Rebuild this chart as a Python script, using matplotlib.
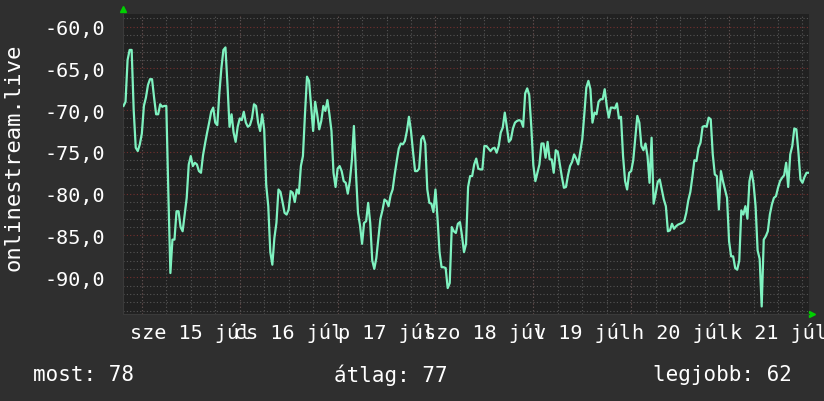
"""
Weekly signal graph for onlinestream.live (RRD style, dark theme).
"""

import matplotlib

matplotlib.use("Agg")
import matplotlib.pyplot as plt
import matplotlib.dates as mdates
from matplotlib.ticker import MultipleLocator, FuncFormatter
import pandas as pd

# half-hour samples, starting 14 Jul 19:30 (one row = 6 hours)
start = "2020-07-14 19:30"
rssi = [
    -69.5, -69, -64, -62.8, -62.8, -70, -74.5, -74.9, -74.1, -72.8, -69.5, -68.5,
    -67, -66.3, -66.3, -68.5, -70.5, -70.5, -69.3, -69.6, -69.5, -69.5, -80, -89.5,
    -85.5, -85.5, -82.1, -82.1, -84, -84.5, -82.5, -80.5, -76.5, -75.5, -76.7, -76.3,
    -76.5, -77.3, -77.5, -75.4, -74, -72.7, -71.5, -70.2, -69.7, -71.5, -71.8, -68,
    -65, -62.8, -62.5, -67, -72, -70.5, -72.7, -73.8, -72, -71, -71.2, -70.2,
    -71.5, -72, -71.8, -71, -69.3, -69.5, -71.5, -72.5, -70.5, -72.3, -79, -81.5,
    -87, -88.5, -85.3, -83.5, -79.5, -79.8, -81, -82.3, -82.5, -81.9, -79.7, -79.9,
    -81, -79.5, -80, -76.7, -75.5, -70.5, -66, -66.5, -69.5, -72.5, -69, -70.5,
    -72.3, -71.3, -69.5, -70.1, -68.8, -70.5, -72.5, -77.5, -79.2, -77, -76.7, -77.3,
    -78.5, -78.7, -80, -78.5, -76, -71.9, -77.5, -82.3, -83.8, -86, -83.5, -83.3,
    -81.1, -83.5, -88, -89, -87.7, -85.3, -83, -82, -80.7, -80.9, -81.5, -80.2,
    -79.5, -77.7, -76.1, -74.6, -74, -74.1, -73.7, -72.5, -70.8, -72.5, -75, -77.3,
    -77.3, -77, -73.5, -73.1, -74, -79.5, -81.1, -81.2, -82.2, -79.5, -82.9, -87,
    -88.8, -88.8, -88.9, -91.3, -90.7, -84, -84.5, -84.7, -83.6, -83.4, -85, -87,
    -86, -79.2, -77.9, -77.9, -76.5, -75.8, -77, -77.1, -77.1, -74.3, -74.3, -74.6,
    -74.9, -74.6, -74.5, -75.1, -74.3, -72.7, -72.1, -70.3, -72, -73.8, -73.5, -72.2,
    -71.5, -71.3, -71.2, -71.3, -72, -68, -67.4, -68.2, -72, -76.6, -78.5, -77.5,
    -76.5, -74, -74, -75.7, -73.8, -75.9, -75.9, -77.5, -74.8, -75, -76.5, -78,
    -79.3, -79.2, -77.8, -76.7, -76.2, -75.3, -75.8, -76.5, -75, -73.5, -70.5, -67.3,
    -66.5, -67.5, -71.5, -70.3, -70.5, -69, -68.7, -68.7, -67.5, -69.5, -70.9, -69.7,
    -69.7, -69.8, -69.2, -71, -70.8, -75.5, -78.5, -79.5, -77.5, -77.3, -76, -73.3,
    -70.7, -71.5, -74.3, -74.8, -74, -75.5, -78.7, -73.3, -81.2, -80, -78.6, -78.3,
    -79.5, -80.7, -81.5, -84.5, -84.4, -83.6, -84.2, -83.9, -83.7, -83.6, -83.5, -83.3,
    -82.3, -80.8, -79.8, -78, -76, -76.1, -74.5, -73.9, -72, -71.9, -72, -70.9,
    -71.1, -75.3, -77.7, -77.9, -81.9, -77.3, -78.5, -79.5, -80.5, -85.7, -87.5, -87.5,
    -88.9, -89.1, -88, -82, -82.5, -81.5, -83, -78.5, -77.3, -78.8, -81.5, -86.8,
    -87.8, -93.5, -85.5, -85.1, -84.5, -82.5, -81.3, -80.5, -80.3, -79.3, -78.5, -78.1,
    -77.8, -76.3, -79.2, -75.3, -74.3, -72.2, -72.3, -75, -78.3, -78.7, -78, -77.5,
    -77.5,
]
day_labels = ["sze 15 júl", "cs 16 júl", "p 17 júl", "szo 18 júl",
              "v 19 júl", "h 20 júl", "k 21 júl"]
label_days = pd.date_range("2020-07-15 12:00", periods=len(day_labels), freq="D")
midnights = pd.date_range("2020-07-15", periods=7, freq="D")

legend_now = "most: 78"
legend_avg = "átlag: 77"
legend_best = "legjobb: 62"

BG = "#2f2f2f"
PLOT_BG = "#212121"
LINE = "#7ff2c0"
MINOR = "#555555"
MAJOR = "#74302f"
MONO = "DejaVu Sans Mono"

times = pd.date_range(start, periods=len(rssi), freq="30min")

fig = plt.figure(figsize=(8.24, 4.02), dpi=100, facecolor=BG)
ax = fig.add_axes([123.5 / 824, 1 - 315 / 402, 685.5 / 824, 300 / 402])
ax.set_facecolor(PLOT_BG)

ax.set_xlim(pd.Timestamp("2020-07-14 19:30"), pd.Timestamp("2020-07-21 19:36"))
ax.set_ylim(-94.4, -58.5)

# grid: grey every 6h / 1 unit, red at midnight / every 5 units
ax.xaxis.set_major_locator(mdates.HourLocator(byhour=[12]))
ax.xaxis.set_minor_locator(mdates.HourLocator(byhour=[0, 6, 12, 18]))
ax.yaxis.set_major_locator(MultipleLocator(5))
ax.yaxis.set_minor_locator(MultipleLocator(1))
ax.grid(which="minor", color=MINOR, linestyle=(0, (1, 2)), linewidth=0.8)
ax.grid(which="major", axis="x", color=MINOR, linestyle=(0, (1, 2)), linewidth=0.8)
ax.grid(which="major", axis="y", color=MAJOR, linestyle=(0, (1, 2)), linewidth=0.8)
for m in midnights:
    ax.axvline(m, color=MAJOR, linestyle=(0, (1, 2)), linewidth=0.8, zorder=1)

ax.plot(times, rssi, color=LINE, linewidth=1.6, zorder=3)

ax.set_xticks(label_days)
ax.set_xticklabels(day_labels)
ax.yaxis.set_major_formatter(FuncFormatter(lambda v, p: f"{v:.1f}".replace(".", ",")))

ax.tick_params(which="both", length=0, colors="white", labelsize=14.5)
ax.tick_params(axis="y", pad=13)
ax.tick_params(axis="x", pad=6)
for lab in ax.get_xticklabels() + ax.get_yticklabels():
    lab.set_family(MONO)

for side in ["top", "right"]:
    ax.spines[side].set_visible(False)
for side in ["left", "bottom"]:
    ax.spines[side].set_color("#3a3a3a")

# little green arrows at the axis ends
ax.plot([0], [1.017], marker="^", color="#00d000", markersize=4,
        transform=ax.transAxes, clip_on=False)
ax.plot([1.004], [0.0], marker=">", color="#00d000", markersize=4,
        transform=ax.transAxes, clip_on=False)

fig.text(14 / 824, 1 - 157 / 402, "onlinestream.live", rotation=90,
         ha="center", va="center", color="white", family=MONO, fontsize=16)

y_leg = 1 - 375 / 402
fig.text(33 / 824, y_leg, legend_now, ha="left", va="center",
         color="white", family=MONO, fontsize=15)
fig.text(334 / 824, y_leg, legend_avg, ha="left", va="center",
         color="white", family=MONO, fontsize=15)
fig.text(792 / 824, y_leg, legend_best, ha="right", va="center",
         color="white", family=MONO, fontsize=15)

fig.savefig("out.png", dpi=100, facecolor=BG)
